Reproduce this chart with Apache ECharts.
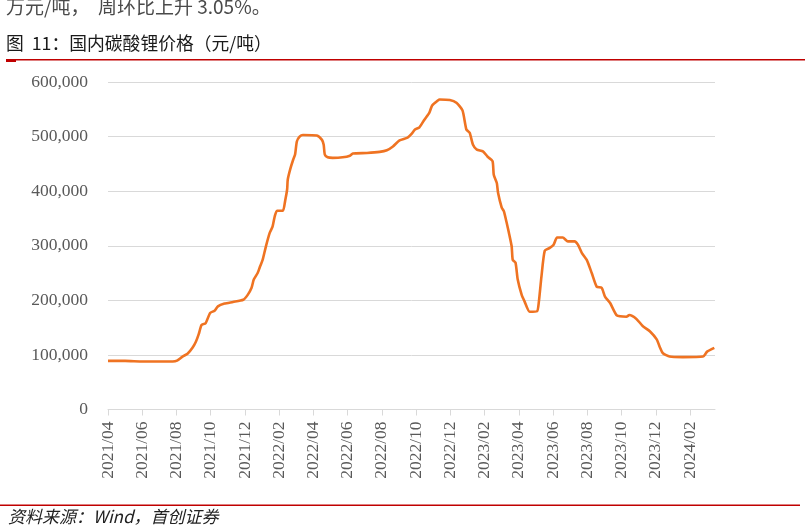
<!DOCTYPE html>
<html>
<head>
<meta charset="utf-8">
<script src="https://cdn.jsdelivr.net/npm/echarts@6/dist/echarts.min.js"></script>
<style>
html,body{margin:0;padding:0;background:#fff;}
#chart{width:805px;height:532px;}
</style>
</head>
<body>
<div id="chart"></div>
<script>
// ---- data ----
const dates = [
'2021-04-01','2021-05-01','2021-06-02','2021-07-25','2021-08-02','2021-08-12','2021-08-21','2021-08-30',
'2021-09-05','2021-09-10','2021-09-15','2021-09-22','2021-09-30','2021-10-08','2021-10-14','2021-10-26',
'2021-11-10','2021-11-28','2021-12-06','2021-12-13','2021-12-17','2021-12-24','2021-12-28','2022-01-02',
'2022-01-08','2022-01-15','2022-01-20','2022-01-24','2022-01-28','2022-02-07','2022-02-11','2022-02-14',
'2022-02-15','2022-02-19','2022-02-24','2022-02-27','2022-03-02','2022-03-07','2022-03-13','2022-04-07',
'2022-04-16','2022-04-19','2022-04-21','2022-04-26','2022-05-05','2022-05-23','2022-06-05','2022-06-10',
'2022-07-05','2022-07-28','2022-08-10','2022-08-21','2022-09-02','2022-09-16','2022-09-23','2022-09-29',
'2022-10-07','2022-10-16','2022-10-25','2022-10-30','2022-11-09','2022-11-12','2022-11-30','2022-12-12',
'2022-12-23','2022-12-30','2023-01-05','2023-01-11','2023-01-18','2023-01-29','2023-02-06','2023-02-14',
'2023-02-16','2023-02-21','2023-02-23','2023-03-01','2023-03-05','2023-03-10','2023-03-14','2023-03-19',
'2023-03-21','2023-03-26','2023-03-30','2023-04-06','2023-04-11','2023-04-20','2023-05-03','2023-05-06',
'2023-05-11','2023-05-17','2023-05-26','2023-06-02','2023-06-08','2023-06-18','2023-06-27','2023-07-09',
'2023-07-15','2023-07-22','2023-07-31','2023-08-09','2023-08-18','2023-08-27','2023-09-02','2023-09-11',
'2023-09-23','2023-10-10','2023-10-15','2023-10-28','2023-11-08','2023-11-21','2023-12-03','2023-12-08',
'2023-12-14','2023-12-26','2024-01-19','2024-02-23','2024-03-01','2024-03-14'
];
const prices = [
89000,89000,88000,88000,89500,97000,102000,113000,
124000,138000,155000,158000,177000,181000,189000,194000,
197000,201000,210000,223000,238000,250000,261000,274000,
299000,324000,335000,354000,364000,364000,384000,403000,
421000,440000,458000,467000,491000,500000,503000,502000,
494000,485000,467000,462000,461000,462000,465000,469000,
470000,472000,475000,482000,493000,498000,505000,513000,
517000,531000,544000,557000,566000,568000,567000,562000,
548000,513000,507000,485000,476000,473000,463000,455000,
430000,415000,397000,370000,363000,342000,324000,299000,
274000,269000,238000,210000,198000,179000,180000,195000,
244000,291000,296000,302000,315000,315000,308000,308000,
302000,287000,274000,250000,225000,223000,207000,195000,
172000,170000,173000,166000,153000,143000,128000,115000,
103000,97000,96000,97000,106000,113000
];
const xTickLabels = ['2021/04','2021/06','2021/08','2021/10','2021/12','2022/02','2022/04','2022/06',
'2022/08','2022/10','2022/12','2023/02','2023/04','2023/06','2023/08','2023/10','2023/12','2024/02'];
const yTicks = [0,100000,200000,300000,400000,500000,600000];

// month offset from 2021/04 (axis unit = month)
function monthOffset(s){
  const p = s.split('-').map(Number);
  const dim = new Date(p[0], p[1], 0).getDate();
  return (p[0]-2021)*12 + (p[1]-4) + (p[2]-1)/dim;
}
const seriesData = dates.map((d,i)=>[monthOffset(d), prices[i]]);
const tickVals = xTickLabels.map((_,i)=>i*2);

const chart = echarts.init(document.getElementById('chart'), null, {renderer:'canvas'});
const serif = '"Liberation Serif","Times New Roman",serif';
const cjk = '"Noto Sans CJK SC","Noto Sans",sans-serif';
chart.setOption({
  animation:false,
  backgroundColor:'#ffffff',
  grid:{left:108, right:90, top:82, bottom:122.5, containLabel:false},
  xAxis:{
    type:'value', min:0, max:35.46, interval:2,
    axisLine:{show:true, lineStyle:{color:'#d9d9d9', width:1}},
    axisTick:{show:true, length:6, lineStyle:{color:'#d9d9d9'}, customValues:tickVals},
    axisLabel:{
      rotate:90, margin:12, color:'#595959', fontFamily:serif, fontSize:17.5,
      customValues:tickVals,
      formatter:v=>xTickLabels[Math.round(v/2)]||''
    },
    splitLine:{show:false}
  },
  yAxis:{
    type:'value', min:0, max:600000, interval:100000,
    axisLine:{show:false}, axisTick:{show:false},
    axisLabel:{margin:20, color:'#595959', fontFamily:serif, fontSize:17.5,
      formatter:v=>v===0?'0':v.toString().replace(/\B(?=(\d{3})+(?!\d))/g, ',')},
    splitLine:{show:true, lineStyle:{color:'#d9d9d9', width:1}}
  },
  series:[{
    type:'line', data:seriesData, showSymbol:false, smooth:0.2,
    lineStyle:{color:'#EF7322', width:2.6}, itemStyle:{color:'#EF7322'}
  }],
  graphic:[
    {type:'text', left:6, top:-3, style:{text:'万元/吨，  周环比上升 3.05%。', font:'19px '+cjk, fill:'#4a4a4a'}},
    {type:'text', left:6, top:34, style:{text:'图  11：国内碳酸锂价格（元/吨）', font:'17.8px '+cjk, fill:'#1a1a1a'}},
    {type:'rect', shape:{x:6, y:59, width:799, height:1.6}, style:{fill:'#c00000'}},
    {type:'rect', shape:{x:6, y:59, width:10, height:3}, style:{fill:'#c00000'}},
    {type:'rect', shape:{x:0, y:504.5, width:800, height:1.6}, style:{fill:'#c00000'}},
    {type:'text', left:8, top:508, style:{text:'资料来源：Wind，首创证券', font:'italic 17px '+cjk, fill:'#222222'}}
  ]
});
</script>
</body>
</html>
